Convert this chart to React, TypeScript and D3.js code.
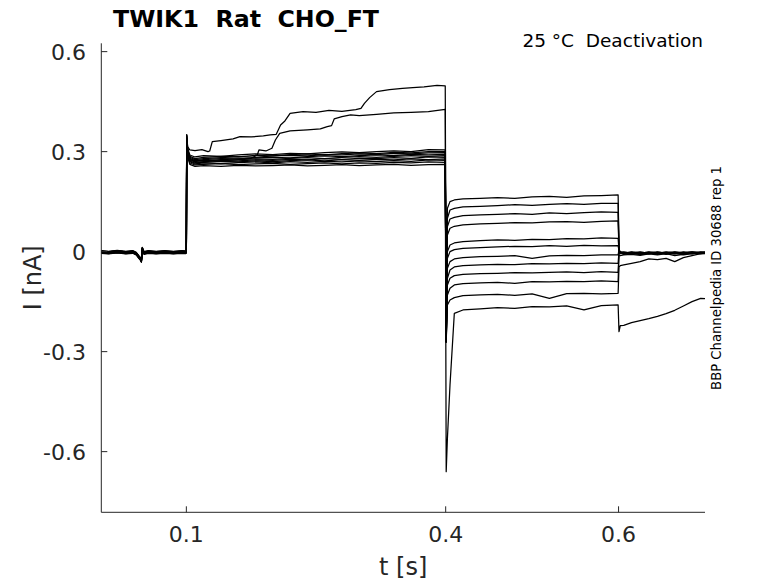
import React from 'react';
import * as d3 from 'd3';

const W = 778;
const H = 583;

// holding segment, shared by every sweep (plus a small per-sweep offset)
const holdT = [0.0016, 0.01, 0.02, 0.03, 0.038, 0.042, 0.045, 0.047, 0.048, 0.049, 0.051, 0.056, 0.065, 0.075, 0.085, 0.095, 0.0995];
const holdI = [-0.001, -0.003, 0, -0.003, -0.001, -0.006, -0.016, -0.022, -0.028, 0.009, -0.004, -0.001, -0.003, -0.001, -0.003, -0.001, -0.002];
const holdOffset = [0.003, -0.002, 0.001, -0.004, 0.002, 0, -0.003, 0.004, -0.001, 0.002, -0.002, 0.001];

// step to the activating voltage: the two sweeps that creep upward
const sweepAT = [0.1, 0.1004, 0.1015, 0.104, 0.11, 0.118, 0.125, 0.127, 0.13, 0.14, 0.154, 0.162, 0.175, 0.189, 0.197, 0.204, 0.209, 0.214, 0.22, 0.235, 0.25, 0.265, 0.28, 0.296, 0.302, 0.306, 0.312, 0.32, 0.335, 0.35, 0.362, 0.375, 0.39, 0.3995];
const sweepAI = [0, 0.35, 0.315, 0.305, 0.303, 0.306, 0.3, 0.302, 0.33, 0.333, 0.338, 0.345, 0.344, 0.347, 0.35, 0.352, 0.38, 0.392, 0.415, 0.42, 0.418, 0.424, 0.421, 0.426, 0.43, 0.445, 0.462, 0.48, 0.486, 0.49, 0.492, 0.494, 0.499, 0.497];
const sweepBT = [0.1, 0.1004, 0.1015, 0.104, 0.12, 0.14, 0.16, 0.175, 0.182, 0.184, 0.192, 0.199, 0.203, 0.208, 0.22, 0.24, 0.255, 0.263, 0.268, 0.271, 0.28, 0.29, 0.3, 0.32, 0.34, 0.36, 0.38, 0.3995];
const sweepBI = [0, 0.33, 0.29, 0.275, 0.272, 0.276, 0.278, 0.28, 0.29, 0.305, 0.302, 0.31, 0.335, 0.355, 0.362, 0.365, 0.368, 0.375, 0.378, 0.398, 0.405, 0.41, 0.408, 0.412, 0.416, 0.418, 0.42, 0.427];

// step to the activating voltage: the ten sweeps of the bundle
const stepT = [0.1, 0.1004, 0.1015, 0.104, 0.11, 0.12, 0.14, 0.16, 0.18, 0.2, 0.22, 0.24, 0.26, 0.28, 0.3, 0.32, 0.34, 0.36, 0.38, 0.3995];
const bundleI = [
  [0.002, 0.33, 0.285, 0.262, 0.256, 0.258, 0.256, 0.259, 0.257, 0.258, 0.26, 0.257, 0.259, 0.261, 0.258, 0.26, 0.262, 0.259, 0.261, 0.262],
  [0, 0.34, 0.29, 0.266, 0.26, 0.262, 0.264, 0.261, 0.263, 0.265, 0.262, 0.264, 0.266, 0.263, 0.266, 0.265, 0.268, 0.266, 0.269, 0.268],
  [-0.001, 0.35, 0.295, 0.27, 0.263, 0.266, 0.264, 0.267, 0.269, 0.266, 0.27, 0.268, 0.271, 0.269, 0.272, 0.27, 0.273, 0.271, 0.275, 0.274],
  [0.001, 0.33, 0.29, 0.272, 0.266, 0.268, 0.271, 0.269, 0.272, 0.27, 0.273, 0.275, 0.272, 0.276, 0.274, 0.277, 0.275, 0.278, 0.276, 0.278],
  [-0.002, 0.34, 0.3, 0.275, 0.268, 0.27, 0.273, 0.272, 0.275, 0.274, 0.277, 0.275, 0.279, 0.277, 0.28, 0.279, 0.282, 0.28, 0.284, 0.283],
  [0.002, 0.345, 0.3, 0.278, 0.27, 0.274, 0.272, 0.276, 0.278, 0.277, 0.28, 0.282, 0.279, 0.283, 0.285, 0.283, 0.286, 0.288, 0.286, 0.288],
  [0, 0.34, 0.305, 0.28, 0.273, 0.276, 0.279, 0.278, 0.281, 0.283, 0.281, 0.285, 0.287, 0.285, 0.288, 0.29, 0.288, 0.292, 0.29, 0.292],
  [0.001, 0.335, 0.3, 0.283, 0.276, 0.279, 0.282, 0.285, 0.283, 0.287, 0.289, 0.287, 0.291, 0.29, 0.293, 0.291, 0.295, 0.293, 0.296, 0.297],
  [-0.001, 0.345, 0.305, 0.286, 0.279, 0.283, 0.286, 0.284, 0.289, 0.287, 0.291, 0.293, 0.29, 0.294, 0.296, 0.294, 0.298, 0.296, 0.3, 0.3],
  [0.002, 0.35, 0.31, 0.29, 0.284, 0.288, 0.286, 0.29, 0.293, 0.291, 0.295, 0.293, 0.297, 0.299, 0.297, 0.3, 0.302, 0.3, 0.306, 0.305],
];

// deactivation step (tail currents), one row per sweep
const deacT = [0.4006, 0.402, 0.405, 0.41, 0.42, 0.44, 0.46, 0.48, 0.5, 0.52, 0.54, 0.56, 0.58, 0.5995];
const deacI = [
  [-0.27, 0.13, 0.15, 0.155, 0.158, 0.16, 0.162, 0.16, 0.164, 0.166, 0.163, 0.167, 0.168, 0.17],
  [-0.27, 0.1, 0.125, 0.13, 0.134, 0.136, 0.138, 0.141, 0.139, 0.142, 0.144, 0.142, 0.145, 0.145],
  [-0.27, 0.075, 0.098, 0.103, 0.108, 0.11, 0.112, 0.114, 0.112, 0.116, 0.114, 0.117, 0.119, 0.118],
  [-0.27, 0.05, 0.07, 0.076, 0.08, 0.083, 0.085, 0.087, 0.086, 0.089, 0.09, 0.088, 0.091, 0.092],
  [-0.27, 0, 0.02, 0.026, 0.03, 0.033, 0.035, 0.034, 0.037, 0.036, 0.039, 0.038, 0.041, 0.04],
  [-0.27, -0.02, 0, 0.006, 0.01, 0.012, 0.014, 0.016, 0.015, 0.018, 0.016, 0.019, 0.017, 0.018],
  [-0.27, -0.05, -0.03, -0.022, -0.018, -0.015, -0.014, -0.012, -0.02, -0.013, -0.011, -0.012, -0.01, -0.01],
  [-0.27, -0.08, -0.055, -0.046, -0.042, -0.04, -0.038, -0.039, -0.036, -0.037, -0.035, -0.036, -0.034, -0.035],
  [-0.27, -0.1, -0.08, -0.072, -0.068, -0.066, -0.065, -0.063, -0.064, -0.062, -0.061, -0.063, -0.06, -0.062],
  [-0.27, -0.13, -0.11, -0.1, -0.096, -0.094, -0.092, -0.095, -0.09, -0.091, -0.089, -0.09, -0.088, -0.09],
  [-0.27, -0.16, -0.145, -0.138, -0.132, -0.13, -0.128, -0.131, -0.127, -0.14, -0.126, -0.125, -0.127, -0.125],
  [-0.66, -0.56, -0.4, -0.185, -0.175, -0.172, -0.168, -0.17, -0.165, -0.166, -0.163, -0.175, -0.162, -0.16],
];

// back to holding after 0.6 s
const postT = [0.6005, 0.602, 0.606, 0.615, 0.625, 0.635, 0.645, 0.655, 0.665, 0.675, 0.685, 0.695, 0.7];
const postI = [
  [0.006, -0.001, -0.003, -0.002, -0.005, -0.001, -0.004, -0.002, -0.005, -0.001, -0.003, -0.002, -0.002],
  [0.004, -0.003, -0.002, -0.004, -0.001, -0.005, -0.002, -0.004, -0.001, -0.004, -0.002, -0.005, -0.003],
  [0.005, -0.002, -0.005, -0.001, -0.004, -0.002, -0.006, -0.001, -0.003, -0.005, -0.001, -0.003, -0.004],
  [0.003, -0.004, -0.001, -0.005, -0.002, -0.004, -0.001, -0.005, -0.002, -0.003, -0.006, -0.002, -0.001],
  [0.004, -0.001, -0.004, -0.003, -0.006, -0.002, -0.003, -0.006, -0.002, -0.004, -0.001, -0.004, -0.003],
  [0.002, -0.005, -0.003, -0.006, -0.003, -0.005, -0.002, -0.003, -0.006, -0.002, -0.005, -0.001, -0.002],
  [0.005, -0.002, -0.006, -0.002, -0.004, -0.007, -0.003, -0.005, -0.002, -0.006, -0.003, -0.004, -0.005],
  [0.001, -0.006, -0.004, -0.007, -0.005, -0.003, -0.008, -0.004, -0.007, -0.003, -0.006, -0.004, -0.003],
  [-0.01, -0.012, -0.01, -0.008, -0.011, -0.007, -0.01, -0.006, -0.012, -0.008, -0.005, -0.007, -0.006],
  [0.002, -0.004, -0.008, -0.005, -0.009, -0.006, -0.004, -0.008, -0.005, -0.01, -0.006, -0.004, -0.005],
  [-0.045, -0.042, -0.04, -0.035, -0.03, -0.022, -0.024, -0.02, -0.03, -0.018, -0.012, -0.006, -0.004],
  [-0.24, -0.222, -0.221, -0.213, -0.207, -0.201, -0.194, -0.186, -0.176, -0.163, -0.15, -0.14, -0.141],
];

const xTicks = [0.1, 0.4, 0.6];
const yTicks = [-0.6, -0.3, 0, 0.3, 0.6];

const FONT = 'DejaVu Sans';
const AX = '#262626';

function sweepPoints(s: number): [number, number][] {
  const pts: [number, number][] = holdT.map((t, k) => [t, holdI[k] + holdOffset[s]]);
  if (s === 0) sweepAT.forEach((t, k) => pts.push([t, sweepAI[k]]));
  else if (s === 1) sweepBT.forEach((t, k) => pts.push([t, sweepBI[k]]));
  else stepT.forEach((t, k) => pts.push([t, bundleI[s - 2][k]]));
  deacT.forEach((t, k) => pts.push([t, deacI[s][k]]));
  postT.forEach((t, k) => pts.push([t, postI[s][k]]));
  return pts;
}

export default function App() {
  const x = d3.scaleLinear().domain([0.0016, 0.7]).range([101.3, 705]);
  const y = d3.scaleLinear().domain([-0.782, 0.625]).range([512.3, 43.3]);
  const line = d3.line<[number, number]>().x(d => x(d[0])).y(d => y(d[1]));

  const [x0, x1] = x.range();
  const [y0, y1] = y.range();

  return (
    <svg width={W} height={H} style={{ position: 'absolute', left: 0, top: 0, background: '#fff' }}>
      <rect width={W} height={H} fill="#fff" />

      {/* traces */}
      <g fill="none" stroke="#000" strokeWidth={1.25} strokeLinejoin="round">
        {deacI.map((_, s) => (
          <path key={s} d={line(sweepPoints(s)) || ''} />
        ))}
      </g>

      {/* axes */}
      <g stroke={AX} strokeWidth={1} fill="none">
        <line x1={x0} x2={x1} y1={y0} y2={y0} />
        <line x1={x0} x2={x0} y1={y0} y2={y1} />
        {xTicks.map(t => (
          <line key={t} x1={x(t)} x2={x(t)} y1={y0} y2={y0 - 6} />
        ))}
        {yTicks.map(t => (
          <line key={t} x1={x0} x2={x0 + 6} y1={y(t)} y2={y(t)} />
        ))}
      </g>
      <g fontFamily={FONT} fontSize={22} fill={AX}>
        {xTicks.map(t => (
          <text key={t} x={x(t)} y={542} textAnchor="middle">{String(t)}</text>
        ))}
        {yTicks.map(t => (
          <text key={t} x={86} y={y(t) + 8} textAnchor="end">{String(t)}</text>
        ))}
      </g>

      <text x={(x0 + x1) / 2} y={575} textAnchor="middle" fontFamily={FONT} fontSize={24} fill={AX}>t [s]</text>
      <text transform={`translate(41,${(y0 + y1) / 2}) rotate(-90)`} textAnchor="middle" fontFamily={FONT} fontSize={24} fill={AX}>I [nA]</text>

      <text x={113} y={26.5} fontFamily={FONT} fontWeight="bold" fontSize={23.7} fill="#000" style={{ whiteSpace: 'pre' }}>TWIK1  Rat  CHO_FT</text>
      <text x={703} y={47} textAnchor="end" fontFamily={FONT} fontSize={18.5} fill="#000" style={{ whiteSpace: 'pre' }}>25 °C  Deactivation</text>
      <text transform="translate(721,278) rotate(-90)" textAnchor="middle" fontFamily={FONT} fontSize={13.2} fill="#000">BBP Channelpedia ID 30688 rep 1</text>
    </svg>
  );
}
